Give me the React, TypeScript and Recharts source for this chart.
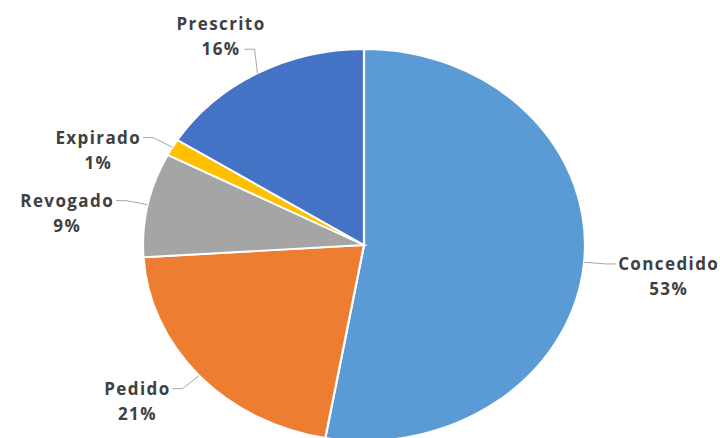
import React from "react";
import { PieChart, Pie, Cell } from "recharts";

const categories = ["Concedido", "Pedido", "Revogado", "Expirado", "Prescrito"];
const values = [52.8, 21.2, 8.6, 1.4, 16.0];
const colors = ["#5B9BD5", "#ED7D31", "#A5A5A5", "#FFC000", "#4472C4"];

const data = categories.map((name, i) => ({ name, value: values[i] }));

const W = 720;
const H = 438;
const CX = 364;
const CY = 245;
const R = 221;
const RY = 0.887;
const FONT = '"Open Sans", sans-serif';
const FS = 17;
const LS = 1.4;
const TEXT_COLOR = "#404040";
const LINE_COLOR = "#a6a6a6";
const NO_MARGIN = { top: 0, right: 0, bottom: 0, left: 0 };

let ctx: CanvasRenderingContext2D | null = null;
function measure(t: string): number {
  if (!ctx && typeof document !== "undefined") {
    ctx = document.createElement("canvas").getContext("2d");
  }
  if (!ctx) return t.length * FS * 0.6;
  ctx.font = `700 ${FS}px "Open Sans"`;
  return ctx.measureText(t).width + LS * t.length;
}

function ePoint(cx: number, cy: number, r: number, deg: number) {
  const a = (deg * Math.PI) / 180;
  return { x: cx + r * Math.cos(a), y: cy - r * RY * Math.sin(a) };
}

const renderLabel = (props: any) => {
  const { cx, cy, midAngle, outerRadius, index, percent } = props;
  const name = categories[index];
  const pct = `${Math.round(percent * 100)}%`;
  const a = (midAngle * Math.PI) / 180;
  const right = Math.cos(a) >= 0;
  const top = Math.sin(a) > 0.7;
  const p0 = ePoint(cx, cy, outerRadius, midAngle);
  const p1 = top
    ? { x: p0.x - 3, y: p0.y - 24 }
    : ePoint(cx, cy, outerRadius * 1.1, midAngle);
  const x2 = p1.x + (right ? 10 : -10);
  const nameW = measure(name);
  const pctW = measure(pct);
  const blockW = Math.max(nameW, pctW);
  let centerX: number;
  let firstY: number;
  if (top) {
    centerX = x2 - 4 - pctW / 2;
    firstY = p1.y - 25;
  } else if (right) {
    centerX = x2 + 2 + blockW / 2;
    firstY = p1.y;
  } else {
    centerX = x2 - 2 - blockW / 2;
    firstY = p1.y;
  }
  const textStyle = { fontFamily: FONT, fontWeight: 700, fontSize: FS, letterSpacing: LS };
  return (
    <g key={`lbl-${index}`}>
      <polyline
        points={`${p0.x},${p0.y} ${p1.x},${p1.y} ${x2},${p1.y}`}
        fill="none"
        stroke={LINE_COLOR}
        strokeWidth={1}
      />
      <text x={centerX} y={firstY + 6} textAnchor="middle" fill={TEXT_COLOR} style={textStyle}>
        {name}
      </text>
      <text x={centerX} y={firstY + 31} textAnchor="middle" fill={TEXT_COLOR} style={textStyle}>
        {pct}
      </text>
    </g>
  );
};

export default function App() {
  return (
    <div
      style={{
        position: "absolute",
        left: 0,
        top: 0,
        width: W,
        height: H,
        overflow: "hidden",
        background: "#ffffff",
      }}
    >
      <div
        style={{
          position: "absolute",
          left: 0,
          top: 0,
          transform: `scaleY(${RY})`,
          transformOrigin: `${CX}px ${CY}px`,
        }}
      >
        <PieChart width={W} height={500} margin={NO_MARGIN}>
          <Pie
            data={data}
            dataKey="value"
            nameKey="name"
            cx={CX}
            cy={CY}
            outerRadius={R}
            startAngle={90}
            endAngle={-270}
            stroke="#ffffff"
            strokeWidth={2.2}
            isAnimationActive={false}
            label={false}
            labelLine={false}
          >
            {data.map((d, i) => (
              <Cell key={d.name} fill={colors[i]} />
            ))}
          </Pie>
        </PieChart>
      </div>
      <div style={{ position: "absolute", left: 0, top: 0 }}>
        <PieChart width={W} height={H} margin={NO_MARGIN}>
          <Pie
            data={data}
            dataKey="value"
            nameKey="name"
            cx={CX}
            cy={CY}
            outerRadius={R}
            startAngle={90}
            endAngle={-270}
            fill="transparent"
            stroke="none"
            isAnimationActive={false}
            label={renderLabel}
            labelLine={false}
          >
            {data.map((d) => (
              <Cell key={d.name} fill="transparent" stroke="none" />
            ))}
          </Pie>
        </PieChart>
      </div>
    </div>
  );
}
